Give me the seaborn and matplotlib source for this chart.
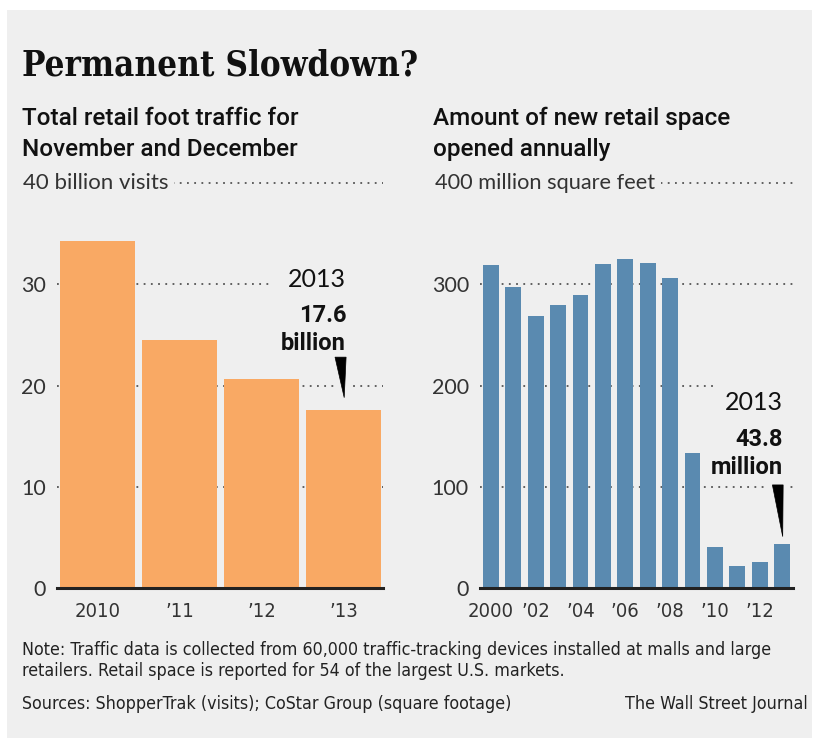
import matplotlib
matplotlib.use("Agg")
import matplotlib.pyplot as plt
import seaborn as sns
import numpy as np
from matplotlib.patches import Rectangle, Polygon

# ---------------- data ----------------
traffic_years = ["2010", "2011", "2012", "2013"]
traffic_labels = ["2010", "\u201911", "\u201912", "\u201913"]
traffic_values = [34.3, 24.5, 20.6, 17.6]

space_years = [str(y) for y in range(2000, 2014)]
space_labels = ["2000", "", "\u201902", "", "\u201904", "", "\u201906", "",
                "\u201908", "", "\u201910", "", "\u201912", ""]
space_values = [319, 297, 269, 280, 289, 320, 325, 321, 306, 133, 40.5, 21.5, 25.5, 43.8]

left_ticks = [0, 10, 20, 30]
right_ticks = [0, 100, 200, 300]

# ---------------- style ----------------
W, H = 814, 743
BG = "#efefef"
ORANGE = "#f9a964"
BLUE = "#5a8ab0"
GRID = "#555555"
SANS = ["Lato", "DejaVu Sans"]
BOLD = ["Roboto", "DejaVu Sans"]
COND = ["DejaVu Sans"]

sns.set_style("white")
plt.rcParams["font.family"] = SANS

fig = plt.figure(figsize=(W / 100, H / 100), dpi=100)
fig.patch.set_facecolor("white")
fig.patches.append(Rectangle((7 / W, 1 - 738 / H), (812 - 7) / W, (738 - 10) / H,
                             transform=fig.transFigure, facecolor=BG, edgecolor="none", zorder=-5))


def px(x, y):
    return x / W, 1 - y / H


def make_axes(left, right):
    return fig.add_axes([left / W, 1 - 588 / H, (right - left) / W, (588 - 183) / H])


axL = make_axes(57, 383)
axR = make_axes(480, 793)


def style_axes(ax, ticks, top, xlabels):
    ax.set_facecolor("none")
    ax.set_ylim(0, top)
    ax.set_yticks(ticks)
    ax.set_yticklabels([str(t) for t in ticks], fontsize=15.5, color="#333333", family=SANS)
    ax.tick_params(axis="y", length=0, pad=8)
    ax.set_xticks(range(len(xlabels)))
    ax.set_xticklabels(xlabels, fontsize=14.5, color="#333333", family=COND, fontstretch="condensed")
    ax.tick_params(axis="x", length=7, width=1.6, color="#222222", pad=3, direction="out")
    for s in ["top", "right", "left"]:
        ax.spines[s].set_visible(False)
    ax.spines["bottom"].set_linewidth(2.2)
    ax.spines["bottom"].set_color("#222222")
    ax.spines["bottom"].set_zorder(5)
    for t in ticks[1:] + [top]:
        ax.axhline(t, color=GRID, lw=1.3, ls=(0, (1, 3)), zorder=0.5, clip_on=False)
    ax.set_xlabel("")
    ax.set_ylabel("")


sns.barplot(x=traffic_years, y=traffic_values, color=ORANGE, saturation=1,
            width=0.915, ax=axL, zorder=2, linewidth=0, edgecolor="none")
axL.set_xlim(-0.495, 3.48)
style_axes(axL, left_ticks, 40, traffic_labels)

sns.barplot(x=space_years, y=space_values, color=BLUE, saturation=1,
            width=0.71, ax=axR, zorder=2, linewidth=0, edgecolor="none")
axR.set_xlim(-0.49, 13.49)
style_axes(axR, right_ticks, 400, space_labels)

# unit labels covering the top gridline start
axL.text(-34 / 326, 1.0, "40 billion visits", transform=axL.transAxes, ha="left", va="center",
         fontsize=16, color="#333333", family=SANS, zorder=6, clip_on=False,
         bbox=dict(facecolor=BG, edgecolor="none", pad=4))
axR.text(-45 / 313, 1.0, "400 million square feet", transform=axR.transAxes, ha="left", va="center",
         fontsize=15.7, color="#333333", family=SANS, zorder=6, clip_on=False,
         bbox=dict(facecolor=BG, edgecolor="none", pad=4))


def annotate(ax, lines, block, wedge):
    (bx0, bx1, by0, by1) = block
    ax.add_patch(Rectangle((bx0, by0), bx1 - bx0, by1 - by0, facecolor=BG, edgecolor="none",
                           zorder=1, clip_on=False))
    for (x, y, s, w) in lines:
        ax.text(x, y, s, ha="right", va="center", fontsize=17 if w == "bold" else 18,
                fontweight=w, color="#111111", family=BOLD if w == "bold" else SANS, zorder=6)
    poly = np.array(wedge)
    ax.add_patch(Polygon(poly, closed=True, facecolor=BG, edgecolor=BG, lw=9, zorder=1.2))
    ax.add_patch(Polygon(poly, closed=True, facecolor="black", edgecolor="black", lw=0.5, zorder=6))


v = traffic_values[3]
annotate(axL,
         [(3.03, v + 12.85, "2013", "normal"),
          (3.03, v + 9.3, "17.6", "bold"),
          (3.03, v + 6.5, "billion", "bold")],
         (2.1, 3.55, v + 5.4, v + 14.6),
         [(2.895, v + 5.2), (3.03, v + 5.2), (3.007, v + 1.2)])

v = space_values[13]
annotate(axR,
         [(13.05, v + 139, "2013", "normal"),
          (13.05, v + 103, "43.8", "bold"),
          (13.05, v + 75, "million", "bold")],
         (9.9, 13.6, v + 64, v + 163),
         [(12.57, v + 58), (13.05, v + 58), (13.03, v + 7)])

# ---------------- titles & notes ----------------
fig.text(*px(22, 66), "Permanent Slowdown?", fontsize=25, fontweight="bold",
         family=["DejaVu Serif", "DejaVu Sans"], fontstretch="condensed", color="#111111",
         ha="left", va="center")
for x, lines in [(22, ["Total retail foot traffic for", "November and December"]),
                 (433, ["Amount of new retail space", "opened annually"])]:
    for i, s in enumerate(lines):
        fig.text(*px(x, 125 + 31 * i), s, fontsize=17.5, fontweight="medium", family=BOLD,
                 color="#111111", ha="left", va="baseline")

NOTE_FS = 12.8
note_kw = dict(fontsize=NOTE_FS, family=COND, fontstretch="condensed", color="#222222", va="center")
fig.text(*px(22, 650), "Note: Traffic data is collected from 60,000 traffic-tracking devices installed at malls and large",
         ha="left", **note_kw)
fig.text(*px(22, 671), "retailers. Retail space is reported for 54 of the largest U.S. markets.",
         ha="left", **note_kw)
fig.text(*px(22, 704), "Sources: ShopperTrak (visits); CoStar Group (square footage)",
         ha="left", **note_kw)
fig.text(*px(808, 704), "The Wall Street Journal", ha="right", **note_kw)

fig.savefig("out.png", dpi=100, facecolor="white")
